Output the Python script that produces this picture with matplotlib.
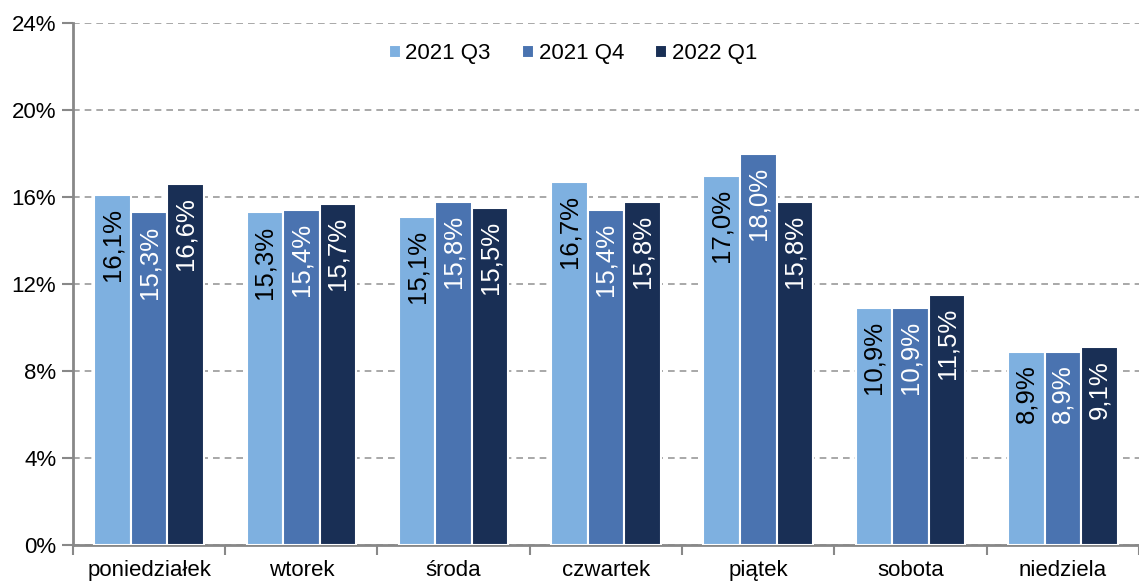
import matplotlib
matplotlib.use("Agg")
import matplotlib.pyplot as plt
from matplotlib.ticker import MultipleLocator, FuncFormatter
import numpy as np

plt.rcParams["font.family"] = ["Liberation Sans", "DejaVu Sans"]

days = ["poniedziałek", "wtorek", "środa", "czwartek", "piątek", "sobota", "niedziela"]
series_names = ["2021 Q3", "2021 Q4", "2022 Q1"]
q3_2021 = [16.1, 15.3, 15.1, 16.7, 17.0, 10.9, 8.9]
q4_2021 = [15.3, 15.4, 15.8, 15.4, 18.0, 10.9, 8.9]
q1_2022 = [16.6, 15.7, 15.5, 15.8, 15.8, 11.5, 9.1]

colors = ["#7eb0e0", "#4a73b0", "#192f55"]
text_colors = ["black", "white", "white"]

fig = plt.figure(figsize=(11.39, 5.83), dpi=100)
ax = fig.add_axes([0.064, 0.065, 0.936, 0.895])

x = np.arange(len(days))
w = 0.24
for i, (vals, name) in enumerate(zip([q3_2021, q4_2021, q1_2022], series_names)):
    pos = x + (i - 1) * w
    ax.bar(pos, vals, width=w, color=colors[i], edgecolor="white", linewidth=1.5,
           label=name, zorder=3)
    for px, v in zip(pos, vals):
        ax.text(px, v - 0.6, f"{v:.1f}%".replace(".", ","), rotation=90,
                ha="center", va="top", fontsize=18.5, color=text_colors[i], zorder=4)

ax.set_xlim(-0.5, len(days) - 0.5)
ax.set_ylim(0, 24)
ax.yaxis.set_major_locator(MultipleLocator(4))
ax.yaxis.set_major_formatter(FuncFormatter(lambda v, p: f"{v:.0f}%"))
ax.grid(axis="y", color="#999999", linestyle=(0, (4, 3)), linewidth=1.2, zorder=0)

ax.set_xticks(x)
ax.set_xticklabels(days)
ax.set_xticks(np.arange(len(days) + 1) - 0.5, minor=True)
ax.tick_params(axis="x", which="major", length=0, pad=11, labelsize=16)
ax.tick_params(axis="x", which="minor", length=7, width=1.5, color="#888888", direction="out")
ax.tick_params(axis="y", length=8, width=1.5, color="#888888", labelsize=16, pad=4)

for s in ["top", "right"]:
    ax.spines[s].set_visible(False)
for s in ["left", "bottom"]:
    ax.spines[s].set_color("#888888")
    ax.spines[s].set_linewidth(2)

fig.legend(loc="center", bbox_to_anchor=(0.503, 0.908), ncol=3, frameon=False,
           fontsize=16, handlelength=0.55, handleheight=0.55, handletextpad=0.2,
           columnspacing=1.4)

fig.savefig("out.png", dpi=100)
